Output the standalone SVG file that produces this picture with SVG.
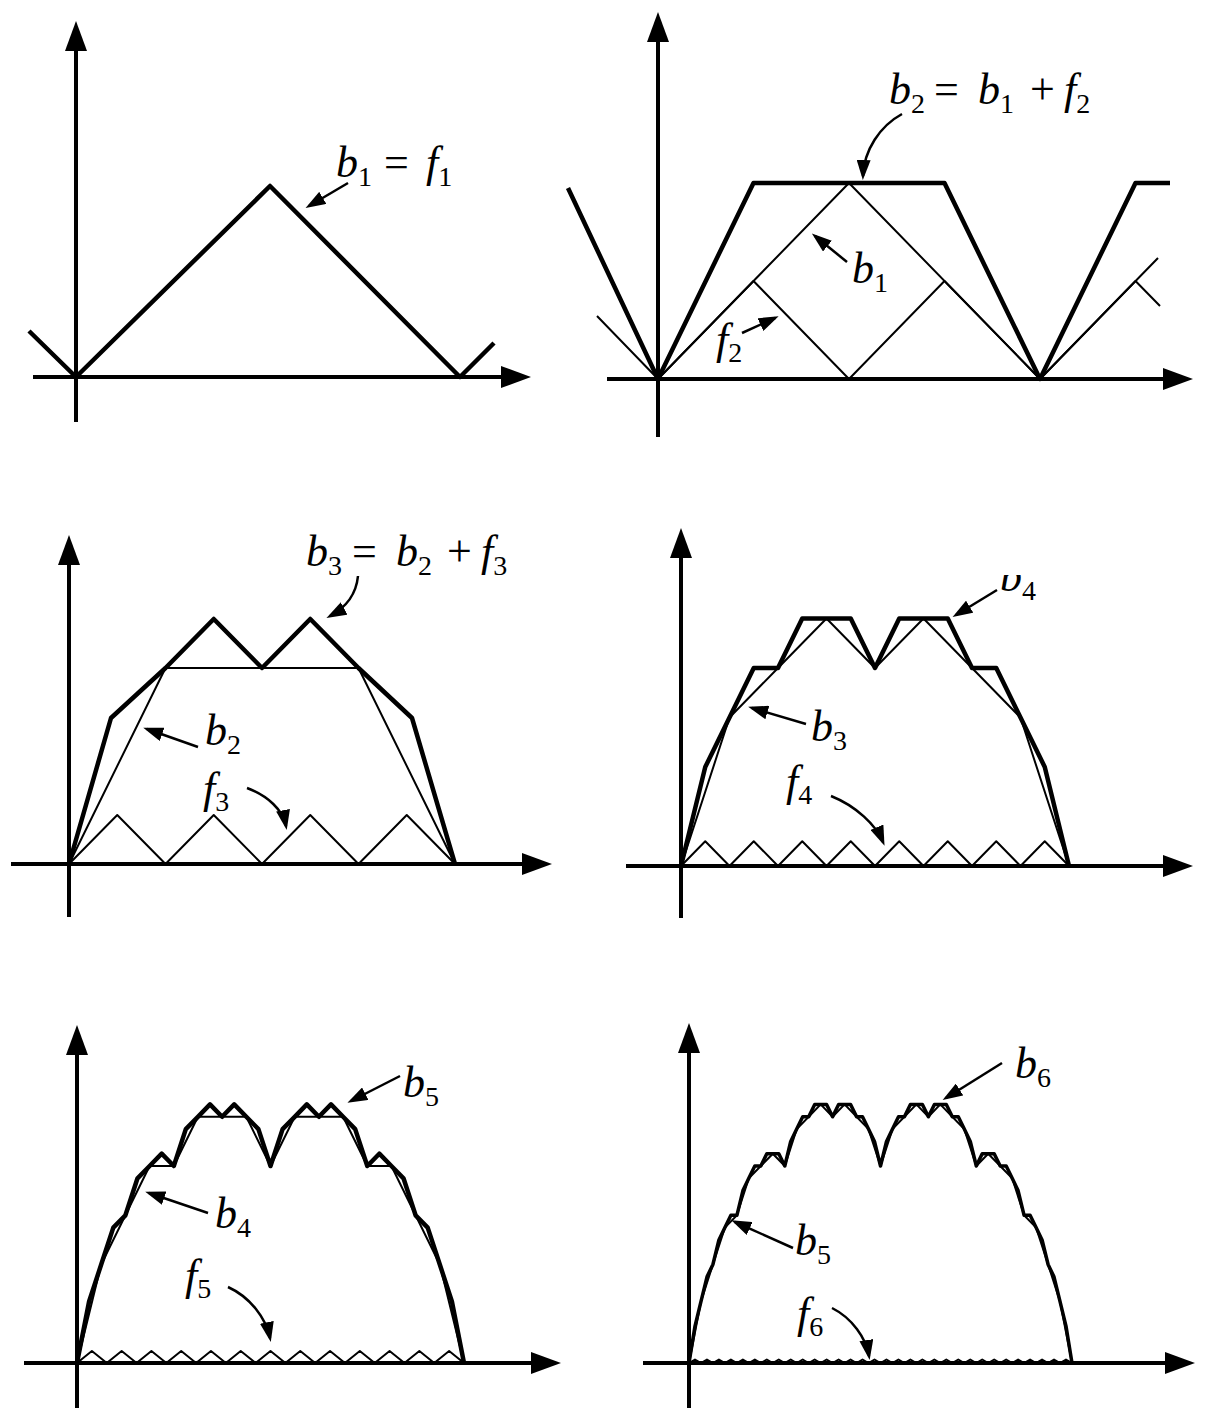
<svg xmlns="http://www.w3.org/2000/svg" width="1217" height="1412" viewBox="0 0 1217 1412">
<style>
.axis{stroke:#000;stroke-width:4;fill:none}
.thick{stroke:#000;stroke-width:4.5;fill:none;stroke-linejoin:round}
.mid{stroke:#000;stroke-width:3.5;fill:none;stroke-linejoin:round}
.thin{stroke:#000;stroke-width:2;fill:none;stroke-linejoin:round}
.conn{stroke:#000;stroke-width:2.5;fill:none}
.lbl{font-family:"Liberation Serif","Times New Roman",serif;font-style:italic;font-size:44px;fill:#000}
.sub{font-style:normal;font-size:28px}
.op{font-style:normal}
</style>
<defs>
<marker id="ah" markerUnits="userSpaceOnUse" viewBox="0 0 30 22" refX="24" refY="11" markerWidth="30" markerHeight="22" orient="auto"><path d="M0,0 L30,11 L0,22 z" fill="#000"/></marker>
<marker id="la" markerUnits="userSpaceOnUse" viewBox="0 0 20 14" refX="16" refY="7" markerWidth="20" markerHeight="14" orient="auto"><path d="M0,0 L20,7 L0,14 z" fill="#000"/></marker>
<clipPath id="clipb4"><rect x="980" y="575" width="80" height="40"/></clipPath>
</defs>
<rect width="1217" height="1412" fill="#fff"/>

<g id="panel1">
<line class="axis" x1="76" y1="422" x2="76" y2="27" marker-end="url(#ah)"/>
<line class="axis" x1="33" y1="377" x2="525" y2="377" marker-end="url(#ah)"/>
<polyline class="thick" points="29,331 76,377 270,186 460,377 494,343"/>
<text class="lbl" x="336" y="177">b<tspan class="sub" dy="9">1</tspan><tspan class="op" dy="-9" x="384">=</tspan><tspan x="426">f</tspan><tspan class="sub" dy="9">1</tspan></text>
</g>

<g id="panel2">
<line class="axis" x1="658" y1="437" x2="658" y2="18" marker-end="url(#ah)"/>
<line class="axis" x1="607" y1="379" x2="1187" y2="379" marker-end="url(#ah)"/>
<polyline class="thin" points="597,316 658,379 849,183 1040,379 1158,258"/>
<polyline class="thin" points="658,379 753.5,281 849,379 944.5,281 1040,379 1135.5,281 1160,306"/>
<polyline class="thick" points="568,188 658,379 753.5,183 944.5,183 1040,379 1135.5,183 1170,183"/>
<text class="lbl" x="889" y="104">b<tspan class="sub" dy="9">2</tspan><tspan class="op" dy="-9" x="934">=</tspan><tspan x="978">b</tspan><tspan class="sub" dy="9">1</tspan><tspan class="op" dy="-9" x="1030">+</tspan><tspan x="1064">f</tspan><tspan class="sub" dy="9">2</tspan></text>
<text class="lbl" x="852" y="283">b<tspan class="sub" dy="9">1</tspan></text>
<text class="lbl" x="716" y="354">f<tspan class="sub" dy="8">2</tspan></text>
</g>

<g id="panel3">
<line class="axis" x1="69" y1="917" x2="69" y2="541" marker-end="url(#ah)"/>
<line class="axis" x1="11" y1="864" x2="546" y2="864" marker-end="url(#ah)"/>
<polyline class="thin" points="69,864 165.5,668 358.5,668 455,864"/>
<polyline class="thin" points="69,864 117.25,815 165.5,864 213.75,815 262,864 310.25,815 358.5,864 406.75,815 455,864"/>
<polyline class="thick" points="69,864 111,718 165.5,668 213.75,619 262,668 310.25,619 358.5,668 412,718 455,864"/>
<text class="lbl" x="306" y="566">b<tspan class="sub" dy="9">3</tspan><tspan class="op" dy="-9" x="352">=</tspan><tspan x="396">b</tspan><tspan class="sub" dy="9">2</tspan><tspan class="op" dy="-9" x="447">+</tspan><tspan x="481">f</tspan><tspan class="sub" dy="9">3</tspan></text>
<text class="lbl" x="205" y="745">b<tspan class="sub" dy="9">2</tspan></text>
<text class="lbl" x="203" y="803">f<tspan class="sub" dy="8">3</tspan></text>
</g>

<g id="panel4">
<line class="axis" x1="681" y1="918" x2="681" y2="534" marker-end="url(#ah)"/>
<line class="axis" x1="626" y1="866" x2="1187" y2="866" marker-end="url(#ah)"/>
<path class="thin" d="M681,866 l24.25,-24.75 l24.25,24.75 l24.25,-24.75 l24.25,24.75 l24.25,-24.75 l24.25,24.75 l24.25,-24.75 l24.25,24.75 l24.25,-24.75 l24.25,24.75 l24.25,-24.75 l24.25,24.75 l24.25,-24.75 l24.25,24.75 l24.25,-24.75 l24.25,24.75"/>
<polyline class="thin" points="681,866 729.5,717.5 778,668 826.5,618.5 875,668 923.5,618.5 972,668 1020.5,717.5 1069,866"/>
<polyline class="thick" points="681,866 705.25,767 729.5,717.5 753.75,668 778,668 802.25,618.5 850.75,618.5 875,668 899.25,618.5 947.75,618.5 972,668 996.25,668 1020.5,717.5 1044.75,767 1069,866"/>
<text class="lbl" x="1000" y="591" clip-path="url(#clipb4)">b<tspan class="sub" dy="9">4</tspan></text>
<text class="lbl" x="811" y="741">b<tspan class="sub" dy="9">3</tspan></text>
<text class="lbl" x="786" y="796">f<tspan class="sub" dy="8">4</tspan></text>
</g>

<g id="panel5">
<line class="axis" x1="77" y1="1408" x2="77" y2="1031" marker-end="url(#ah)"/>
<line class="axis" x1="24" y1="1363" x2="555" y2="1363" marker-end="url(#ah)"/>
<path class="thin" d="M77,1363 l14.885,-12 l14.885,12 l14.885,-12 l14.885,12 l14.885,-12 l14.885,12 l14.885,-12 l14.885,12 l14.885,-12 l14.885,12 l14.885,-12 l14.885,12 l14.885,-12 l14.885,12 l14.885,-12 l14.885,12 l14.885,-12 l14.885,12 l14.885,-12 l14.885,12 l14.885,-12 l14.885,12 l14.885,-12 l14.885,12 l14.885,-12 l14.885,12"/>
<polyline class="thin" points="77,1363 101.2,1264.5 125.4,1215.3 149.6,1166 173.8,1166 197.9,1116.8 246.3,1116.8 270.5,1166 294.7,1116.8 343.1,1116.8 367.3,1166 391.4,1166 415.6,1215.3 439.8,1264.5 464,1363"/>
<polyline class="thick" points="77,1363 89.1,1301.4 101.2,1264.5 113.3,1227.6 125.4,1215.3 137.5,1178.3 149.6,1166 161.7,1153.7 173.8,1166 185.8,1129.1 197.9,1116.8 210,1104.4 222.1,1116.8 234.2,1104.4 246.3,1116.8 258.4,1129.1 270.5,1166 282.6,1129.1 294.7,1116.8 306.8,1104.4 318.9,1116.8 331,1104.4 343.1,1116.8 355.2,1129.1 367.3,1166 379.3,1153.7 391.4,1166 403.5,1178.3 415.6,1215.3 427.7,1227.6 439.8,1264.5 451.9,1301.4 464,1363"/>
<text class="lbl" x="403" y="1097">b<tspan class="sub" dy="9">5</tspan></text>
<text class="lbl" x="215" y="1228">b<tspan class="sub" dy="9">4</tspan></text>
<text class="lbl" x="185" y="1290">f<tspan class="sub" dy="8">5</tspan></text>
</g>

<g id="panel6">
<line class="axis" x1="689" y1="1408" x2="689" y2="1029" marker-end="url(#ah)"/>
<line class="axis" x1="643" y1="1363" x2="1189" y2="1363" marker-end="url(#ah)"/>
<path class="thin" d="M689,1363 l5.984,-3.5 l5.984,3.5 l5.984,-3.5 l5.984,3.5 l5.984,-3.5 l5.984,3.5 l5.984,-3.5 l5.984,3.5 l5.984,-3.5 l5.984,3.5 l5.984,-3.5 l5.984,3.5 l5.984,-3.5 l5.984,3.5 l5.984,-3.5 l5.984,3.5 l5.984,-3.5 l5.984,3.5 l5.984,-3.5 l5.984,3.5 l5.984,-3.5 l5.984,3.5 l5.984,-3.5 l5.984,3.5 l5.984,-3.5 l5.984,3.5 l5.984,-3.5 l5.984,3.5 l5.984,-3.5 l5.984,3.5 l5.984,-3.5 l5.984,3.5 l5.984,-3.5 l5.984,3.5 l5.984,-3.5 l5.984,3.5 l5.984,-3.5 l5.984,3.5 l5.984,-3.5 l5.984,3.5 l5.984,-3.5 l5.984,3.5 l5.984,-3.5 l5.984,3.5 l5.984,-3.5 l5.984,3.5 l5.984,-3.5 l5.984,3.5 l5.984,-3.5 l5.984,3.5 l5.984,-3.5 l5.984,3.5 l5.984,-3.5 l5.984,3.5 l5.984,-3.5 l5.984,3.5 l5.984,-3.5 l5.984,3.5 l5.984,-3.5 l5.984,3.5 l5.984,-3.5 l5.984,3.5 l5.984,-3.5 l5.984,3.5"/>
<polyline class="thin" points="689,1363 701,1301.4 712.9,1264.5 724.9,1227.6 736.9,1215.3 748.8,1178.3 760.8,1166 772.8,1153.7 784.8,1166 796.7,1129.1 808.7,1116.8 820.7,1104.4 832.6,1116.8 844.6,1104.4 856.6,1116.8 868.5,1129.1 880.5,1166 892.5,1129.1 904.4,1116.8 916.4,1104.4 928.4,1116.8 940.3,1104.4 952.3,1116.8 964.3,1129.1 976.3,1166 988.2,1153.7 1000.2,1166 1012.2,1178.3 1024.1,1215.3 1036.1,1227.6 1048.1,1264.5 1060,1301.4 1072,1363"/>
<polyline class="mid" points="689,1363 695,1326.1 701,1301.4 707,1276.8 712.9,1264.5 718.9,1239.9 724.9,1227.6 730.9,1215.3 736.9,1215.3 742.9,1190.6 748.8,1178.3 754.8,1166 760.8,1166 766.8,1153.7 772.8,1153.7 778.8,1153.7 784.8,1166 790.7,1141.4 796.7,1129.1 802.7,1116.8 808.7,1116.8 814.7,1104.4 820.7,1104.4 826.6,1104.4 832.6,1116.8 838.6,1104.4 844.6,1104.4 850.6,1104.4 856.6,1116.8 862.5,1116.8 868.5,1129.1 874.5,1141.4 880.5,1166 886.5,1141.4 892.5,1129.1 898.5,1116.8 904.4,1116.8 910.4,1104.4 916.4,1104.4 922.4,1104.4 928.4,1116.8 934.4,1104.4 940.3,1104.4 946.3,1104.4 952.3,1116.8 958.3,1116.8 964.3,1129.1 970.3,1141.4 976.3,1166 982.2,1153.7 988.2,1153.7 994.2,1153.7 1000.2,1166 1006.2,1166 1012.2,1178.3 1018.1,1190.6 1024.1,1215.3 1030.1,1215.3 1036.1,1227.6 1042.1,1239.9 1048.1,1264.5 1054,1276.8 1060,1301.4 1066,1326.1 1072,1363"/>
<text class="lbl" x="1015" y="1078">b<tspan class="sub" dy="9">6</tspan></text>
<text class="lbl" x="795" y="1255">b<tspan class="sub" dy="9">5</tspan></text>
<text class="lbl" x="797" y="1328">f<tspan class="sub" dy="8">6</tspan></text>
</g>

<g id="connectors">
<path class="conn" d="M348,183 L309,206" marker-end="url(#la)"/>
<path class="conn" d="M902,114 C880,126 864,150 863,176" marker-end="url(#la)"/>
<path class="conn" d="M847,262 L815,236" marker-end="url(#la)"/>
<path class="conn" d="M742,333 L775,318" marker-end="url(#la)"/>
<path class="conn" d="M358,576 C356,596 345,608 330,616" marker-end="url(#la)"/>
<path class="conn" d="M198,747 L147,729" marker-end="url(#la)"/>
<path class="conn" d="M247,788 C268,796 283,810 286,826" marker-end="url(#la)"/>
<path class="conn" d="M997,590 L956,615" marker-end="url(#la)"/>
<path class="conn" d="M806,724 L752,708" marker-end="url(#la)"/>
<path class="conn" d="M831,796 C856,806 876,825 883,842" marker-end="url(#la)"/>
<path class="conn" d="M400,1076 L351,1101" marker-end="url(#la)"/>
<path class="conn" d="M208,1213 L149,1193" marker-end="url(#la)"/>
<path class="conn" d="M228,1287 C250,1297 266,1318 270,1338" marker-end="url(#la)"/>
<path class="conn" d="M1002,1063 L946,1098" marker-end="url(#la)"/>
<path class="conn" d="M793,1248 L735,1222" marker-end="url(#la)"/>
<path class="conn" d="M832,1308 C852,1318 866,1338 869,1356" marker-end="url(#la)"/>
</g>
</svg>
